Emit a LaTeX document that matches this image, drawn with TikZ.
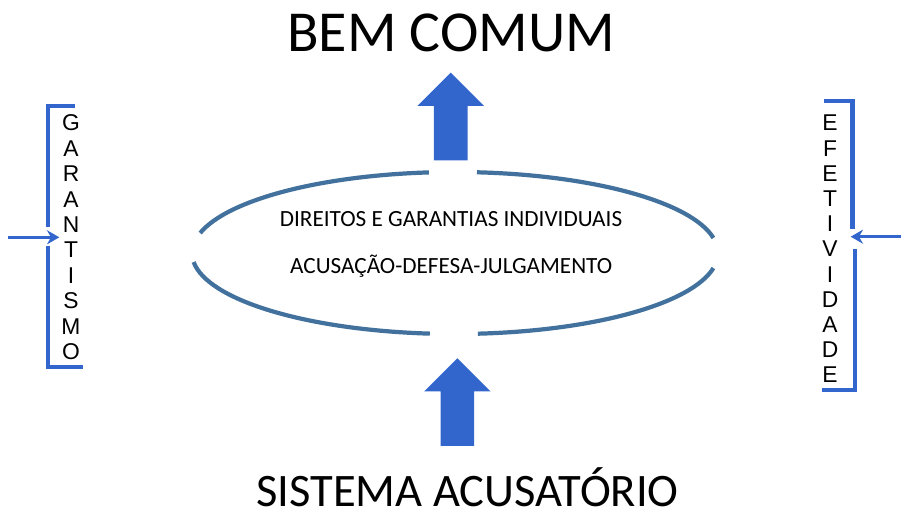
\documentclass[tikz,border=0pt]{standalone}
\usepackage{fontspec}
\setmainfont{Carlito}
\newfontfamily\sidefont{Liberation Sans}
\usepackage{tikz}
\usetikzlibrary{arrows.meta}
\definecolor{arrowBlue}{HTML}{3366CC}
\definecolor{ringBlue}{HTML}{41719C}

% block arrow pointing up: #1 = x of the tip, #2 = y of the tip (pixels)
\newcommand{\blockUp}[2]{%
  \fill[arrowBlue] (#1,#2) -- ++(33.3,33.2) -- ++(-16.5,0) -- ++(0,54.5)
    -- ++(-33.6,0) -- ++(0,-54.5) -- ++(-16.5,0) -- cycle;}

\begin{document}
\begin{tikzpicture}[x=0.02cm, y=-0.02cm,
    ring/.style={draw=ringBlue, line width=2.4pt},
    bracket/.style={draw=arrowBlue, line width=2.3pt},
    sidearrow/.style={draw=arrowBlue, line width=1.7pt, -{Stealth[length=7pt,width=8pt]}},
    sideletter/.style={font=\sidefont\fontsize{13}{15}\selectfont, inner sep=0pt},
    inner/.style={font=\fontsize{13.2}{15}\selectfont, inner sep=0pt, anchor=base}]
  \useasboundingbox (0,0) rectangle (921,517);

  \node[anchor=base, inner sep=0pt, font=\fontsize{33}{38}\selectfont] (bem) at (451,52) {BEM COMUM};
  \node[anchor=base, inner sep=0pt, font=\fontsize{26.5}{30}\selectfont] (sistema) at (467.5,506) {SISTEMA ACUSATÓRIO};

  \blockUp{450.7}{72.7}
  \blockUp{457.3}{358.3}

  % broken ellipse
  \foreach \a/\b in {-165.7/-95.7, -85.2/-10.7, 10.7/85, 95.5/173.6}
    \draw[ring] (455,253) ++(\a:263 and 81) arc[start angle=\a, end angle=\b, x radius=263, y radius=81];
  \node[inner] (direitos) at (451,226.7) {DIREITOS E GARANTIAS INDIVIDUAIS};
  \node[inner] (acusacao) at (451.2,273.3) {ACUSAÇÃO-DEFESA-JULGAMENTO};

  % left side
  \draw[bracket] (74.7,106) -- (48.3,106) -- (48.3,226.7);
  \draw[bracket] (48.3,245.7) -- (48.3,366.7) -- (82.7,366.7);
  \foreach \ch [count=\k] in {G,A,R,A,N,T,I,S,M,O}
    \node[sideletter] (gar\k) at (71,123+25.4*\k-25.4) {\ch};
  \coordinate (garOut) at (8.3,237.3);
  \coordinate (garIn) at (59.3,237.3);
  \draw[sidearrow] (garOut) -- (garIn);

  % right side
  \draw[bracket] (824,101) -- (852.5,101) -- (852.5,229.3);
  \draw[bracket] (855,249.3) -- (855,390) -- (821.7,390);
  \foreach \ch [count=\k] in {E,F,E,T,I,V,I,D,A,D,E}
    \node[sideletter] (efe\k) at (830,123+25.2*\k-25.2) {\ch};
  \coordinate (efeOut) at (900.7,236.7);
  \coordinate (efeIn) at (850.7,236.7);
  \draw[sidearrow] (efeOut) -- (efeIn);
\end{tikzpicture}
\end{document}
